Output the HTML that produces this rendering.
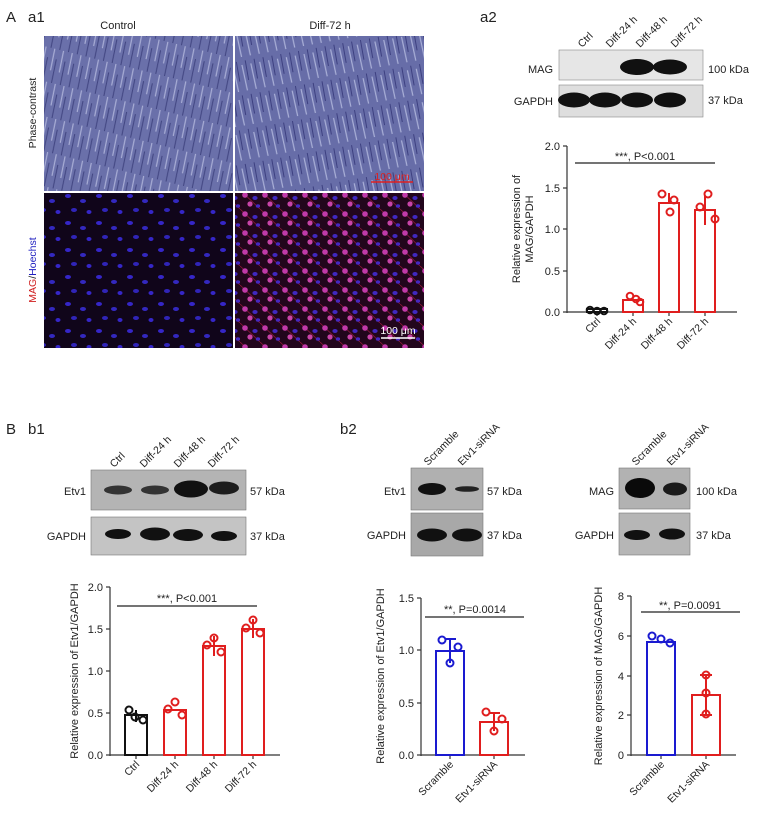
<!DOCTYPE html>
<html><head><meta charset="utf-8"><style>
html,body{margin:0;padding:0;background:#fff}
svg{display:block}
text{font-family:"Liberation Sans",Arial,sans-serif;fill:#222}
</style></head><body>
<svg width="761" height="821" viewBox="0 0 761 821" xmlns="http://www.w3.org/2000/svg">
<defs>
<pattern id="pc" width="9" height="34" patternUnits="userSpaceOnUse" patternTransform="rotate(14)">
<rect width="9" height="34" fill="#6a70aa"/>
<path d="M2 0 L3 22" stroke="#a9aed6" stroke-width="1.2"/>
<path d="M6 10 L7 34" stroke="#404480" stroke-width="1"/>
</pattern>
<pattern id="pc2" width="9" height="34" patternUnits="userSpaceOnUse" patternTransform="rotate(-10)">
<rect width="9" height="34" fill="#676da8"/>
<path d="M2 4 L3 30" stroke="#aab0d8" stroke-width="1.2"/>
<path d="M6 0 L6 20" stroke="#3d4080" stroke-width="1"/>
</pattern>
<pattern id="fl1" width="31" height="27" patternUnits="userSpaceOnUse">
<rect width="31" height="27" fill="#10051a"/>
<ellipse cx="6" cy="7" rx="3" ry="2" fill="#3526c8"/>
<ellipse cx="21" cy="12" rx="3" ry="2" fill="#3328c0"/>
<ellipse cx="12" cy="21" rx="3" ry="2" fill="#3024b8"/>
<ellipse cx="27" cy="23" rx="2.5" ry="2" fill="#3526c8"/>
</pattern>
<pattern id="fl2" width="20" height="19" patternUnits="userSpaceOnUse">
<rect width="20" height="19" fill="#22061c"/>
<path d="M0 0 L20 19" stroke="#901638" stroke-width="0.8"/>
<circle cx="5" cy="5" r="2.8" fill="#c03aa8"/>
<ellipse cx="15" cy="8" rx="2.6" ry="2" fill="#4028c0"/>
<circle cx="10" cy="14" r="2.6" fill="#c844a8"/>
<ellipse cx="18" cy="16" rx="2.2" ry="1.8" fill="#4428c0"/>
</pattern>
</defs>
<rect width="761" height="821" fill="#fff"/>

<!-- A a1 -->
<text x="6" y="22" font-size="15">A</text>
<text x="28" y="22" font-size="15">a1</text>
<text x="118" y="29" font-size="11" text-anchor="middle">Control</text>
<text x="330" y="29" font-size="11" text-anchor="middle">Diff-72 h</text>
<rect x="44" y="36" width="189" height="155" fill="url(#pc)"/>
<rect x="235" y="36" width="189" height="155" fill="url(#pc2)"/>
<rect x="44" y="193" width="189" height="155" fill="url(#fl1)"/>
<rect x="235" y="193" width="189" height="155" fill="url(#fl2)"/>
<line x1="371" y1="182" x2="413" y2="182" stroke="#e02020" stroke-width="1.5"/>
<text x="392" y="180" font-size="10.5" style="fill:#e02020" text-anchor="middle">100 μm</text>
<line x1="381" y1="338" x2="415" y2="338" stroke="#fff" stroke-width="1.5"/>
<text x="398" y="334" font-size="10.5" style="fill:#fff" text-anchor="middle">100 μm</text>
<text transform="translate(36,113) rotate(-90)" font-size="10.5" text-anchor="middle">Phase-contrast</text>
<text transform="translate(36,270) rotate(-90)" font-size="10.5" text-anchor="middle"><tspan style="fill:#d02020">MAG</tspan>/<tspan style="fill:#2020c0">Hoechst</tspan></text>

<!-- a2 -->
<text x="480" y="22" font-size="15">a2</text>
<g font-size="10.5">
<text transform="translate(582,48) rotate(-45)">Ctrl</text>
<text transform="translate(610,48) rotate(-45)">Diff-24 h</text>
<text transform="translate(640,48) rotate(-45)">Diff-48 h</text>
<text transform="translate(675,48) rotate(-45)">Diff-72 h</text>
</g>
<rect x="559" y="50" width="144" height="30" fill="#e6e6e6" stroke="#888" stroke-width="0.6"/>
<rect x="559" y="85" width="144" height="32" fill="#dedede" stroke="#888" stroke-width="0.6"/>
<ellipse cx="637" cy="67" rx="17" ry="8" fill="#111"/>
<ellipse cx="670" cy="67" rx="17" ry="7.5" fill="#111"/>
<ellipse cx="574" cy="100" rx="16" ry="7.5" fill="#111"/>
<ellipse cx="605" cy="100" rx="16" ry="7.5" fill="#111"/>
<ellipse cx="637" cy="100" rx="16" ry="7.5" fill="#111"/>
<ellipse cx="670" cy="100" rx="16" ry="7.5" fill="#111"/>
<g font-size="11"><text x="553" y="73" text-anchor="end">MAG</text><text x="553" y="105" text-anchor="end">GAPDH</text>
<text x="708" y="73">100 kDa</text><text x="708" y="104">37 kDa</text></g>

<g font-size="11" stroke-width="1.2">
<line x1="567" y1="146" x2="567" y2="313" stroke="#333"/>
<line x1="567" y1="312" x2="737" y2="312" stroke="#333"/>
<g stroke="#333"><line x1="563" y1="146" x2="567" y2="146"/><line x1="563" y1="188" x2="567" y2="188"/><line x1="563" y1="229" x2="567" y2="229"/><line x1="563" y1="271" x2="567" y2="271"/><line x1="563" y1="312" x2="567" y2="312"/>
<line x1="597" y1="312" x2="597" y2="316"/><line x1="633" y1="312" x2="633" y2="316"/><line x1="669" y1="312" x2="669" y2="316"/><line x1="705" y1="312" x2="705" y2="316"/></g>
<text x="560" y="150" text-anchor="end">2.0</text><text x="560" y="192" text-anchor="end">1.5</text><text x="560" y="233" text-anchor="end">1.0</text><text x="560" y="275" text-anchor="end">0.5</text><text x="560" y="316" text-anchor="end">0.0</text>
<line x1="575" y1="163" x2="715" y2="163" stroke="#222"/>
<text x="645" y="160" text-anchor="middle">***, P&lt;0.001</text>
<text transform="translate(520,229) rotate(-90)" text-anchor="middle">Relative expression of</text>
<text transform="translate(533,229) rotate(-90)" text-anchor="middle">MAG/GAPDH</text>
<rect x="587" y="309" width="20" height="3" fill="none" stroke="#111" stroke-width="2"/>
<g fill="none" stroke="#e01e1e" stroke-width="2"><rect x="623" y="300" width="20" height="12"/><rect x="659" y="203" width="20" height="109"/><rect x="695" y="210" width="20" height="102"/>
<circle cx="630" cy="296" r="3.3"/><circle cx="636" cy="299" r="3.3"/><circle cx="640" cy="302" r="3.3"/>
<circle cx="662" cy="194" r="3.5"/><circle cx="674" cy="200" r="3.5"/><circle cx="670" cy="212" r="3.5"/>
<circle cx="708" cy="194" r="3.5"/><circle cx="700" cy="207" r="3.5"/><circle cx="715" cy="219" r="3.5"/>
<line x1="669" y1="193" x2="669" y2="203"/><line x1="705" y1="196" x2="705" y2="225"/></g>
<g fill="none" stroke="#111" stroke-width="2"><circle cx="590" cy="310" r="3.3"/><circle cx="597" cy="311" r="3.3"/><circle cx="604" cy="311" r="3.3"/></g>
<g font-size="10.5"><text transform="translate(601,322) rotate(-45)" text-anchor="end">Ctrl</text>
<text transform="translate(637,322) rotate(-45)" text-anchor="end">Diff-24 h</text>
<text transform="translate(673,322) rotate(-45)" text-anchor="end">Diff-48 h</text>
<text transform="translate(709,322) rotate(-45)" text-anchor="end">Diff-72 h</text></g>
</g>

<!-- B b1 -->
<text x="6" y="434" font-size="15">B</text>
<text x="28" y="434" font-size="15">b1</text>
<g font-size="10.5">
<text transform="translate(114,468) rotate(-45)">Ctrl</text>
<text transform="translate(144,468) rotate(-45)">Diff-24 h</text>
<text transform="translate(178,468) rotate(-45)">Diff-48 h</text>
<text transform="translate(212,468) rotate(-45)">Diff-72 h</text>
</g>
<rect x="91" y="470" width="155" height="40" fill="#b4b4b4" stroke="#777" stroke-width="0.6"/>
<rect x="91" y="517" width="155" height="38" fill="#c4c4c4" stroke="#777" stroke-width="0.6"/>
<ellipse cx="118" cy="490" rx="14" ry="4.5" fill="#333"/><ellipse cx="155" cy="490" rx="14" ry="4.5" fill="#333"/>
<ellipse cx="191" cy="489" rx="17" ry="8.5" fill="#111"/><ellipse cx="224" cy="488" rx="15" ry="6.5" fill="#1c1c1c"/>
<ellipse cx="118" cy="534" rx="13" ry="5" fill="#111"/><ellipse cx="155" cy="534" rx="15" ry="6.5" fill="#111"/>
<ellipse cx="188" cy="535" rx="15" ry="6" fill="#111"/><ellipse cx="224" cy="536" rx="13" ry="5" fill="#111"/>
<g font-size="11"><text x="86" y="495" text-anchor="end">Etv1</text><text x="86" y="540" text-anchor="end">GAPDH</text>
<text x="250" y="495">57 kDa</text><text x="250" y="540">37 kDa</text></g>

<g font-size="11" stroke-width="1.2">
<line x1="110" y1="587" x2="110" y2="756" stroke="#333"/>
<line x1="110" y1="755" x2="280" y2="755" stroke="#333"/>
<g stroke="#333"><line x1="106" y1="587" x2="110" y2="587"/><line x1="106" y1="629" x2="110" y2="629"/><line x1="106" y1="671" x2="110" y2="671"/><line x1="106" y1="713" x2="110" y2="713"/><line x1="106" y1="755" x2="110" y2="755"/>
<line x1="136" y1="755" x2="136" y2="759"/><line x1="175" y1="755" x2="175" y2="759"/><line x1="214" y1="755" x2="214" y2="759"/><line x1="253" y1="755" x2="253" y2="759"/></g>
<text x="103" y="591" text-anchor="end">2.0</text><text x="103" y="633" text-anchor="end">1.5</text><text x="103" y="675" text-anchor="end">1.0</text><text x="103" y="717" text-anchor="end">0.5</text><text x="103" y="759" text-anchor="end">0.0</text>
<line x1="117" y1="606" x2="257" y2="606" stroke="#222"/>
<text x="187" y="602" text-anchor="middle">***, P&lt;0.001</text>
<text transform="translate(78,671) rotate(-90)" text-anchor="middle">Relative expression of Etv1/GAPDH</text>
<rect x="125" y="715" width="22" height="40" fill="none" stroke="#111" stroke-width="2"/>
<g fill="none" stroke="#111" stroke-width="2"><circle cx="129" cy="710" r="3.5"/><circle cx="135" cy="717" r="3.5"/><circle cx="143" cy="720" r="3.5"/><line x1="136" y1="710" x2="136" y2="722"/></g>
<g fill="none" stroke="#e01e1e" stroke-width="2"><rect x="164" y="710" width="22" height="45"/><rect x="203" y="646" width="22" height="109"/><rect x="242" y="629" width="22" height="126"/>
<circle cx="175" cy="702" r="3.5"/><circle cx="168" cy="709" r="3.5"/><circle cx="182" cy="715" r="3.5"/>
<circle cx="214" cy="638" r="3.5"/><circle cx="207" cy="645" r="3.5"/><circle cx="221" cy="652" r="3.5"/>
<circle cx="253" cy="620" r="3.5"/><circle cx="246" cy="628" r="3.5"/><circle cx="260" cy="633" r="3.5"/>
<line x1="214" y1="636" x2="214" y2="656"/><line x1="253" y1="619" x2="253" y2="638"/></g>
<g font-size="10.5"><text transform="translate(140,765) rotate(-45)" text-anchor="end">Ctrl</text>
<text transform="translate(179,765) rotate(-45)" text-anchor="end">Diff-24 h</text>
<text transform="translate(218,765) rotate(-45)" text-anchor="end">Diff-48 h</text>
<text transform="translate(257,765) rotate(-45)" text-anchor="end">Diff-72 h</text></g>
</g>

<!-- b2 -->
<text x="340" y="434" font-size="15">b2</text>
<g font-size="10.5">
<text transform="translate(428,466) rotate(-45)">Scramble</text>
<text transform="translate(462,466) rotate(-45)">Etv1-siRNA</text>
<text transform="translate(636,466) rotate(-45)">Scramble</text>
<text transform="translate(671,466) rotate(-45)">Etv1-siRNA</text>
</g>
<rect x="411" y="468" width="72" height="42" fill="#b0b0b0" stroke="#777" stroke-width="0.6"/>
<rect x="411" y="513" width="72" height="43" fill="#a8a8a8" stroke="#777" stroke-width="0.6"/>
<ellipse cx="432" cy="489" rx="14" ry="6" fill="#111"/><ellipse cx="467" cy="489" rx="12" ry="2.8" fill="#222"/>
<ellipse cx="432" cy="535" rx="15" ry="6.5" fill="#111"/><ellipse cx="467" cy="535" rx="15" ry="6.5" fill="#111"/>
<rect x="619" y="468" width="71" height="41" fill="#b2b2b2" stroke="#777" stroke-width="0.6"/>
<rect x="619" y="513" width="71" height="42" fill="#b6b6b6" stroke="#777" stroke-width="0.6"/>
<ellipse cx="640" cy="488" rx="15" ry="10" fill="#0a0a0a"/><ellipse cx="675" cy="489" rx="12" ry="6.5" fill="#1a1a1a"/>
<ellipse cx="637" cy="535" rx="13" ry="5" fill="#111"/><ellipse cx="672" cy="534" rx="13" ry="5.5" fill="#111"/>
<g font-size="11"><text x="406" y="495" text-anchor="end">Etv1</text><text x="406" y="539" text-anchor="end">GAPDH</text>
<text x="487" y="495">57 kDa</text><text x="487" y="539">37 kDa</text>
<text x="614" y="495" text-anchor="end">MAG</text><text x="614" y="539" text-anchor="end">GAPDH</text>
<text x="696" y="495">100 kDa</text><text x="696" y="539">37 kDa</text></g>

<g font-size="11" stroke-width="1.2">
<line x1="421" y1="598" x2="421" y2="756" stroke="#333"/>
<line x1="421" y1="755" x2="525" y2="755" stroke="#333"/>
<g stroke="#333"><line x1="417" y1="598" x2="421" y2="598"/><line x1="417" y1="650" x2="421" y2="650"/><line x1="417" y1="703" x2="421" y2="703"/><line x1="417" y1="755" x2="421" y2="755"/>
<line x1="450" y1="755" x2="450" y2="759"/><line x1="494" y1="755" x2="494" y2="759"/></g>
<text x="414" y="602" text-anchor="end">1.5</text><text x="414" y="654" text-anchor="end">1.0</text><text x="414" y="707" text-anchor="end">0.5</text><text x="414" y="759" text-anchor="end">0.0</text>
<line x1="425" y1="617" x2="524" y2="617" stroke="#222"/>
<text x="475" y="613" text-anchor="middle">**, P=0.0014</text>
<text transform="translate(384,676) rotate(-90)" text-anchor="middle">Relative expression of Etv1/GAPDH</text>
<g fill="none" stroke="#1a1ad0" stroke-width="2"><rect x="436" y="651" width="28" height="104"/>
<circle cx="442" cy="640" r="3.5"/><circle cx="458" cy="647" r="3.5"/><circle cx="450" cy="663" r="3.5"/><line x1="450" y1="639" x2="450" y2="663"/><line x1="445" y1="639" x2="456" y2="639"/></g>
<g fill="none" stroke="#e01e1e" stroke-width="2"><rect x="480" y="722" width="28" height="33"/>
<circle cx="486" cy="712" r="3.5"/><circle cx="502" cy="719" r="3.5"/><circle cx="494" cy="731" r="3.5"/><line x1="494" y1="713" x2="494" y2="731"/><line x1="489" y1="713" x2="500" y2="713"/></g>
<g font-size="10.5"><text transform="translate(454,765) rotate(-45)" text-anchor="end">Scramble</text>
<text transform="translate(498,765) rotate(-45)" text-anchor="end">Etv1-siRNA</text></g>

<line x1="631" y1="596" x2="631" y2="756" stroke="#333"/>
<line x1="631" y1="755" x2="736" y2="755" stroke="#333"/>
<g stroke="#333"><line x1="627" y1="596" x2="631" y2="596"/><line x1="627" y1="636" x2="631" y2="636"/><line x1="627" y1="676" x2="631" y2="676"/><line x1="627" y1="715" x2="631" y2="715"/><line x1="627" y1="755" x2="631" y2="755"/>
<line x1="661" y1="755" x2="661" y2="759"/><line x1="706" y1="755" x2="706" y2="759"/></g>
<text x="624" y="600" text-anchor="end">8</text><text x="624" y="640" text-anchor="end">6</text><text x="624" y="680" text-anchor="end">4</text><text x="624" y="719" text-anchor="end">2</text><text x="624" y="759" text-anchor="end">0</text>
<line x1="641" y1="612" x2="740" y2="612" stroke="#222"/>
<text x="690" y="609" text-anchor="middle">**, P=0.0091</text>
<text transform="translate(602,676) rotate(-90)" text-anchor="middle">Relative expression of MAG/GAPDH</text>
<g fill="none" stroke="#1a1ad0" stroke-width="2"><rect x="647" y="642" width="28" height="113"/>
<circle cx="652" cy="636" r="3.5"/><circle cx="661" cy="639" r="3.5"/><circle cx="670" cy="643" r="3.5"/></g>
<g fill="none" stroke="#e01e1e" stroke-width="2"><rect x="692" y="695" width="28" height="60"/>
<circle cx="706" cy="675" r="3.5"/><circle cx="706" cy="693" r="3.5"/><circle cx="706" cy="714" r="3.5"/><line x1="706" y1="675" x2="706" y2="715"/><line x1="700" y1="675" x2="712" y2="675"/><line x1="700" y1="715" x2="712" y2="715"/></g>
<g font-size="10.5"><text transform="translate(665,765) rotate(-45)" text-anchor="end">Scramble</text>
<text transform="translate(710,765) rotate(-45)" text-anchor="end">Etv1-siRNA</text></g>
</g>
</svg>
</body></html>
